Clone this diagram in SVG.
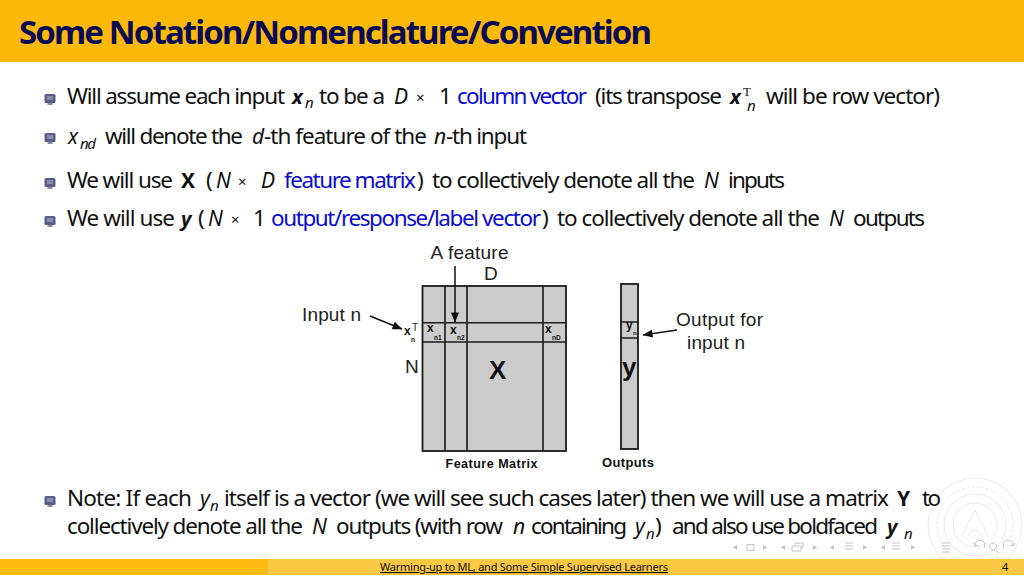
<svg xmlns="http://www.w3.org/2000/svg" width="1024" height="576" viewBox="0 0 1024 576">
<style>
text{font-family:"Noto Sans","DejaVu Sans",sans-serif;fill:#111}
.b{font-size:22.500px}
.i{font-size:21px;font-style:italic}
.bi{font-size:20px;font-style:italic;font-weight:700}
.bb{font-size:21px;font-weight:700}
.s{font-size:15px;font-style:italic}
.t{font-size:15px}
.blue{fill:#0a0ad2}
.l{font-family:"Liberation Sans",Arial,sans-serif;font-size:19px;fill:#222}
.lb{font-family:"Liberation Sans",Arial,sans-serif;font-weight:700;fill:#111}
.grid{fill:#cccccc;stroke:#1a1a1a;stroke-width:1.800}
.gl{stroke:#1a1a1a;stroke-width:1.600;fill:none}
.arr{stroke:#111;stroke-width:1.500;fill:none;marker-end:url(#ah)}
.nav{fill:none;stroke:#c3c3cf;stroke-width:1}
.navf{fill:#c3c3cf}
.seal{fill:none;stroke:#ece9e9;stroke-width:1}
</style>
<defs>
<marker id="ah" viewBox="0 0 10 8" refX="9.500" refY="4" markerWidth="11" markerHeight="8" markerUnits="userSpaceOnUse" orient="auto"><path d="M0 0L10 4L0 8z" fill="#111"/></marker>
<g id="bul"><rect x="0" y="0" width="11" height="9" rx="1.500" fill="#5c5c88"/><rect x="2.500" y="2" width="6" height="4" fill="#8a8aaa"/><rect x="3" y="9" width="5" height="2" fill="#8a8aa8"/></g>
</defs>

<g id="seal">
<circle class="seal" cx="975" cy="525" r="47"/><circle class="seal" cx="975" cy="525" r="38" stroke-dasharray="3 2"/><circle class="seal" cx="975" cy="525" r="31"/><circle class="seal" cx="975" cy="525" r="22"/>
<path class="seal" d="M962 537C966 525 970 520 975 510C980 520 984 525 988 537M968 537C971 528 979 528 982 537"/>
</g>

<g id="header">
<rect x="0" y="0" width="1024" height="62" fill="#fdb90a"/>
<text x="19" y="44" font-size="33" font-weight="700" style="fill:#0b0b55" textLength="633">Some Notation/Nomenclature/Convention</text>
</g>

<g id="bullets">
<use href="#bul" x="44.500" y="94"/><use href="#bul" x="44.500" y="133"/><use href="#bul" x="44.500" y="178"/><use href="#bul" x="44.500" y="216"/><use href="#bul" x="44.500" y="496"/>
</g>

<g id="line1">
<text y="104"><tspan class="b" x="67" textLength="218">Will assume each input</tspan><tspan class="bi" x="292">x</tspan><tspan class="s" x="305" y="108">n</tspan><tspan class="b" x="319" y="104" textLength="66">to be a</tspan><tspan class="i" x="394">D</tspan><tspan class="t" x="416" y="103">×</tspan><tspan class="b" x="439" y="104">1</tspan><tspan class="b blue" x="457" textLength="130">column vector</tspan><tspan class="b" x="595" textLength="127">(its transpose</tspan><tspan class="bi" x="730">x</tspan><tspan x="743" y="96" font-size="13" style="font-family:'Liberation Serif',serif">T</tspan><tspan class="s" x="747" y="111">n</tspan><tspan class="b" x="766" y="104" textLength="174">will be row vector)</tspan></text>
</g>
<g id="line2">
<text y="144"><tspan class="i" x="68">x</tspan><tspan class="s" x="80" y="149" textLength="16">nd</tspan><tspan class="b" x="105" y="144" textLength="138">will denote the</tspan><tspan class="i" x="252">d</tspan><tspan class="b" x="264" textLength="163">-th feature of the</tspan><tspan class="i" x="434">n</tspan><tspan class="b" x="446" textLength="81">-th input</tspan></text>
</g>
<g id="line3">
<text y="188"><tspan class="b" x="67" textLength="106">We will use</tspan><tspan class="bb" x="181">X</tspan><tspan class="b" x="206">(</tspan><tspan class="i" x="216">N</tspan><tspan class="t" x="238" y="187">×</tspan><tspan class="i" x="261" y="188">D</tspan><tspan class="b blue" x="284" textLength="132">feature matrix</tspan><tspan class="b" x="417">)</tspan><tspan class="b" x="432" textLength="263">to collectively denote all the</tspan><tspan class="i" x="704">N</tspan><tspan class="b" x="728" textLength="57">inputs</tspan></text>
</g>
<g id="line4">
<text y="226"><tspan class="b" x="67" textLength="108">We will use</tspan><tspan class="bi" x="181">y</tspan><tspan class="b" x="198">(</tspan><tspan class="i" x="208">N</tspan><tspan class="t" x="231" y="225">×</tspan><tspan class="b" x="253" y="226">1</tspan><tspan class="b blue" x="271" textLength="270">output/response/label vector</tspan><tspan class="b" x="542">)</tspan><tspan class="b" x="557" textLength="263">to collectively denote all the</tspan><tspan class="i" x="829">N</tspan><tspan class="b" x="853" textLength="72">outputs</tspan></text>
</g>

<g id="feature-matrix">
<rect class="grid" x="422.500" y="286" width="143.500" height="165"/>
<path class="gl" d="M445 286V451M467 286V451M543 286V451M422.500 322.700H566M422.500 342H566"/>
<text class="lb" x="489" y="379" font-size="26">X</text>
<text class="lb" x="404" y="335" font-size="12">x</text><text class="l" x="412" y="331" style="font-size:10px">T</text><text class="lb" x="411" y="342" font-size="6.500">n</text>
<text class="lb" x="427" y="332" font-size="12">x</text><text class="lb" x="434" y="340" font-size="6.500">n1</text>
<text class="lb" x="450" y="334" font-size="12">x</text><text class="lb" x="457" y="340" font-size="6.500">n2</text>
<text class="lb" x="545" y="333" font-size="12">x</text><text class="lb" x="552" y="340" font-size="6.500">nD</text>
<text class="lb" x="445.500" y="468" font-size="12.500" textLength="92">Feature Matrix</text>
</g>
<g id="outputs">
<rect class="grid" x="621" y="284" width="17" height="165"/>
<path class="gl" d="M621 322H638M621 338H638"/>
<text class="lb" x="622" y="376" font-size="26">y</text>
<text class="lb" x="626" y="329" font-size="12">y</text><text class="lb" x="633" y="335" font-size="6">n</text>
<text class="lb" x="602" y="467" font-size="13" textLength="52">Outputs</text>
</g>
<g id="labels">
<text class="l" x="430.500" y="259" textLength="78">A feature</text>
<text class="l" x="484" y="280">D</text>
<text class="l" x="302" y="321" textLength="59">Input n</text>
<text class="l" x="405" y="373">N</text>
<text class="l" x="676" y="326" textLength="87">Output for</text>
<text class="l" x="687" y="349" textLength="58">input n</text>
</g>
<g id="connectors">
<line class="arr" x1="455" y1="266" x2="455" y2="322"/>
<line class="arr" x1="370" y1="316" x2="402" y2="329"/>
<line class="arr" x1="677" y1="330" x2="643" y2="335"/>
</g>

<g id="note">
<text y="506"><tspan class="b" x="67" textLength="125">Note: If each</tspan><tspan class="i" x="200">y</tspan><tspan class="s" x="210" y="511">n</tspan><tspan class="b" x="224" y="506" textLength="665">itself is a vector (we will see such cases later) then we will use a matrix</tspan><tspan class="bb" x="897">Y</tspan><tspan class="b" x="922" textLength="19">to</tspan></text>
<text y="534"><tspan class="b" x="67" textLength="236">collectively denote all the</tspan><tspan class="i" x="312">N</tspan><tspan class="b" x="336" textLength="167">outputs (with row</tspan><tspan class="i" x="513">n</tspan><tspan class="b" x="531" textLength="96">containing</tspan><tspan class="i" x="635">y</tspan><tspan class="s" x="646" y="539">n</tspan><tspan class="b" x="655" y="534">)</tspan><tspan class="b" x="672" textLength="206">and also use boldfaced</tspan><tspan class="bi" x="887">y</tspan><tspan class="s" x="904" y="539">n</tspan></text>
</g>

<g id="nav">
<path class="navf" d="M737 545l-4 2.500 4 2.500zM763 545l4 2.500-4 2.500zM785 545l-4 2.500 4 2.500zM813 545l4 2.500-4 2.500zM834 545l-4 2.500 4 2.500zM863 545l4 2.500-4 2.500zM885 545l-4 2.500 4 2.500zM911 545l4 2.500-4 2.500z"/>
<rect class="nav" x="747" y="544.500" width="7" height="6"/>
<path class="nav" d="M792 551h9v-5h-9zM795 546v-3h8v5h-2M845 543h8M845 546h8M845 549h8M892 543h8M892 546h8M892 549h8M942 543h8M942 546h8M942 549h8M942 552h8"/>
<path class="nav" d="M984 548a5 5 0 1 0-9-2M973 543l2 3 3-1M993 543a3.500 3.500 0 1 0 .1 0M996 550l3 3M1004 548a5 5 0 1 1 9-2M1015 543l-2 3-3-1"/>
</g>

<g id="footer">
<rect x="0" y="559" width="1024" height="16" fill="#fac843"/>
<rect x="0" y="559" width="268" height="16" fill="#fdbb12"/>
<text x="380" y="571" font-size="11" style="text-decoration:underline" textLength="288">Warming-up to ML, and Some Simple Supervised Learners</text>
<text x="1002" y="571" font-size="11">4</text>
</g>
</svg>
